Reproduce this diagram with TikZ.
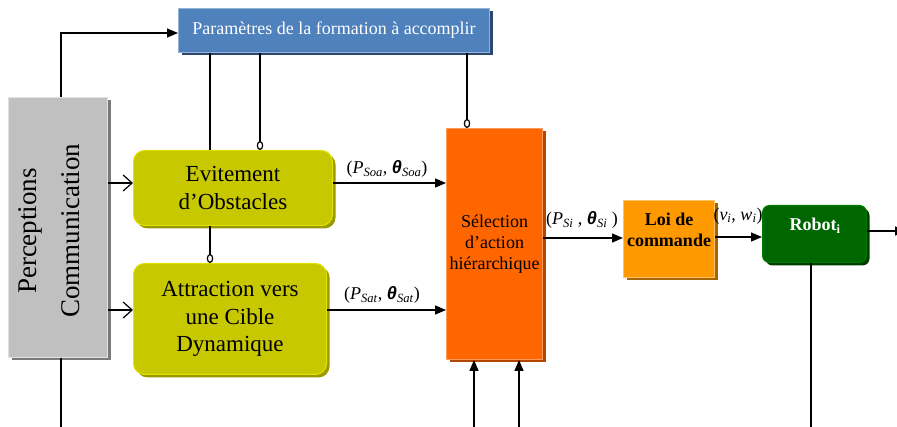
\documentclass[tikz,border=0pt]{standalone}
\usepackage{fontspec}
\setmainfont{Liberation Serif}
\newfontfamily\grk{Liberation Sans}
\usetikzlibrary{arrows.meta,shadows}
\definecolor{yelfill}{HTML}{C8C800}
\definecolor{yeledge}{HTML}{E2E200}
\definecolor{yelshad}{HTML}{9A9A00}
\definecolor{selfill}{HTML}{FF6600}
\definecolor{seledge}{HTML}{FF9A5A}
\definecolor{selshad}{HTML}{B34700}
\definecolor{loifill}{HTML}{FF9900}
\definecolor{loiedge}{HTML}{FFC266}
\definecolor{loishad}{HTML}{A86400}
\definecolor{bluefill}{HTML}{4F81BD}
\definecolor{blueedge}{HTML}{95B3D7}
\definecolor{blueshad}{HTML}{2C4770}
\definecolor{grayfill}{HTML}{C0C0C0}
\definecolor{grayedge}{HTML}{E0E0E0}
\definecolor{grayshad}{HTML}{7A7A7A}
\definecolor{grnfill}{HTML}{006600}
\definecolor{grnedge}{HTML}{007A00}
\definecolor{grnshad}{HTML}{003F00}
\newcommand{\gth}{{\grk\bfseries\itshape θ}}
\newcommand{\sbs}[1]{\textsubscript{\textit{#1}}}
\begin{document}
\begin{tikzpicture}[x=1pt,y=-1pt,
  boxbase/.style={line width=1pt, inner sep=0pt, align=center, anchor=center},
  shad/.style={general shadow={fill=#1, shadow xshift=3pt, shadow yshift=-3pt}},
  bluebox/.style={boxbase, draw=blueedge, fill=bluefill, shad=blueshad, text=white,
     minimum width=311pt, minimum height=44pt, font=\fontsize{18}{21}\selectfont},
  graybox/.style={boxbase, draw=grayedge, fill=grayfill, shad=grayshad,
     minimum width=99pt, minimum height=260pt},
  yelbox/.style={boxbase, draw=yeledge, fill=yelfill, shad=yelshad, rounded corners=11pt,
     font=\fontsize{23}{27.5}\selectfont},
  selbox/.style={boxbase, draw=seledge, fill=selfill, shad=selshad,
     minimum width=96pt, minimum height=231pt, font=\fontsize{18}{21}\selectfont},
  loibox/.style={boxbase, draw=loiedge, fill=loifill, shad=loishad,
     minimum width=91pt, minimum height=77pt},
  robotbox/.style={boxbase, draw=grnedge, fill=grnfill, shad=grnshad, rounded corners=7pt,
     minimum width=104pt, minimum height=57pt},
  conn/.style={line width=1.4pt},
  tri/.style={conn, -{Triangle[length=11pt,width=9pt]}},
  barb/.style={conn, -{Straight Barb[length=9pt,width=16pt,line width=1.2pt]}},
  circ/.style={conn, -{Circle[open,length=9pt,width=6.5pt,line width=1.2pt]}},
  lbl/.style={inner sep=0pt, font=\fontsize{18}{20}\selectfont}
]
\useasboundingbox (0,0) rectangle (897,427);

% boxes
\node[bluebox] (param) at (334,30.5) {Paramètres de la formation à accomplir};
\node[graybox] (percep) at (58,227.5) {};
\node[rotate=90, align=center, inner sep=0pt, font=\fontsize{27}{43}\selectfont] (ptext) at (49,231) {Perceptions\\Communication};
\node[yelbox, minimum width=199pt, minimum height=75pt] (evit) at (233,188) {Evitement\\d’Obstacles};
\node[yelbox, minimum width=193pt, minimum height=111pt] (attr) at (230,319) {Attraction vers\\une Cible\\Dynamique};
\node[selbox] (sel) at (494.5,244) {Sélection\\d’action\\hiérarchique};
\node[loibox] (loi) at (669,239) {};
\node[align=center, inner sep=0pt, font=\fontsize{18}{21}\selectfont\bfseries] (loitext) at (669,230) {Loi de\\commande};
\node[robotbox] (robot) at (814.5,234) {};
\node[inner sep=0pt, text=white, font=\fontsize{18}{21}\selectfont\bfseries] (robottext) at (815,226) {Robot\textsubscript{i}};

% helper coordinates
\coordinate (x61) at (61,0);
\coordinate (x210) at (210,0);
\coordinate (x260) at (260,0);
\coordinate (x467) at (467,0);
\coordinate (y183) at (0,183);
\coordinate (y310) at (0,310);
\coordinate (y33) at (0,33);
\coordinate (y238) at (0,238);
\coordinate (y237) at (0,237);
\coordinate (bot61) at (61,427);
\coordinate (bot474) at (474,427);
\coordinate (bot519) at (519,427);
\coordinate (bot811) at (811,427);
\coordinate (x811) at (811,0);
\coordinate (rout) at (906,231);

% connectors
\draw[tri] (percep.north -| x61) |- (param.west |- y33);
\draw[conn] (percep.south -| x61) -- (bot61);
\draw[barb] (percep.east |- y183) -- (evit.west |- y183);
\draw[barb] (percep.east |- y310) -- (attr.west |- y310);
\draw[conn] (param.south -| x210) -- (evit.north -| x210);
\draw[circ] (param.south -| x260) -- (evit.north -| x260);
\draw[circ] (evit.south -| x210) -- (attr.north -| x210);
\draw[circ] (param.south -| x467) -- (sel.north -| x467);
\draw[tri] (evit.east |- y183) -- (sel.west |- y183);
\draw[tri] (attr.east |- y310) -- (sel.west |- y310);
\draw[tri] (bot474) -- (sel.south -| bot474);
\draw[tri] (bot519) -- (sel.south -| bot519);
\draw[tri] (sel.east |- y238) -- (loi.west |- y238);
\draw[tri] (loi.east |- y237) -- (robot.west |- y237);
\draw[conn] (robot.south -| x811) -- (bot811);
\begin{scope}
\clip (0,0) rectangle (897,427);
\draw[tri] (robot.east |- rout) -- (rout);
\end{scope}

% labels
\node[lbl] (lsoa) at (387,169) {(\textit{P}\sbs{Soa}, \gth\sbs{Soa})};
\node[lbl] (lsat) at (382,295) {(\textit{P}\sbs{Sat}, \gth\sbs{Sat})};
\node[lbl] (lsi) at (582,220) {(\textit{P}\sbs{Si} , \gth\sbs{Si} )};
\node[lbl] (lvw) at (738,216) {(\textit{v}\sbs{i}, \textit{w}\sbs{i})};
\end{tikzpicture}
\end{document}
